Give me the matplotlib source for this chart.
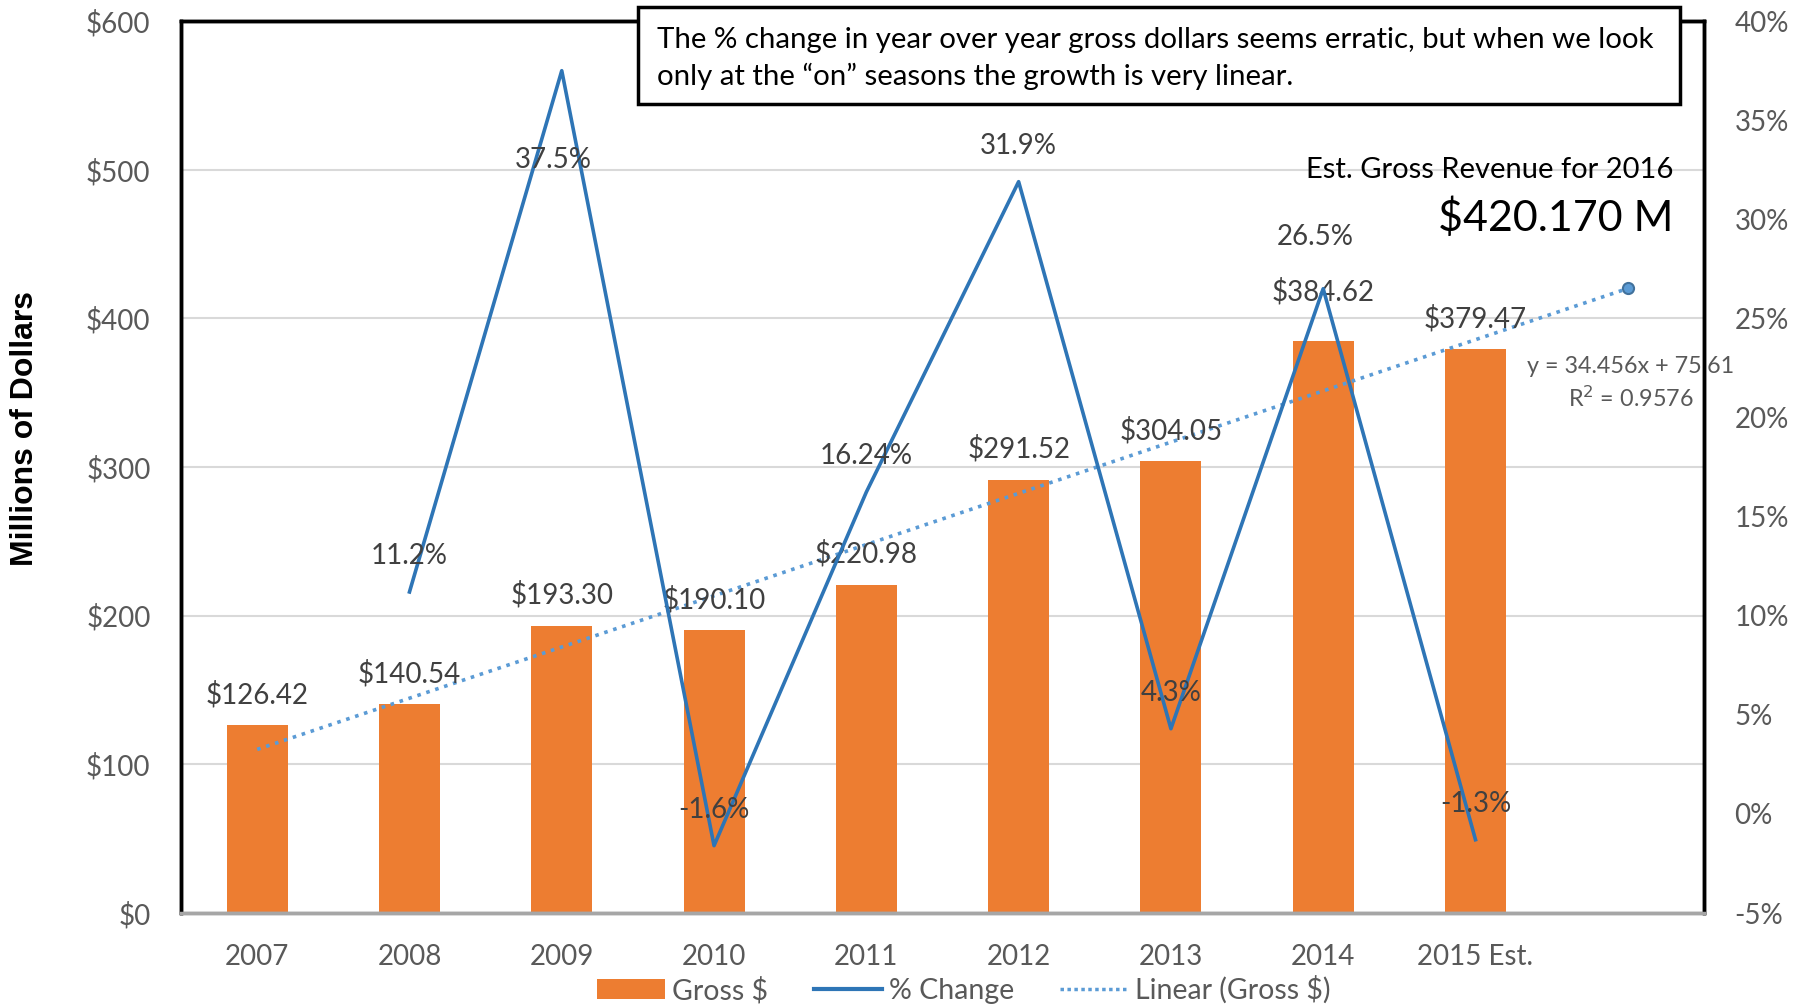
import numpy as np
import matplotlib
matplotlib.use("Agg")
from matplotlib import pyplot as plt
from matplotlib.patches import Rectangle
from matplotlib.lines import Line2D
from matplotlib.patches import Patch

plt.rcParams["font.family"] = ["Lato", "DejaVu Sans"]

# Data
years = ["2007", "2008", "2009", "2010", "2011", "2012", "2013", "2014", "2015 Est.", ""]
gross = [126.42, 140.54, 193.30, 190.10, 220.98, 291.52, 304.05, 384.62, 379.47]
pct_years = ["2008", "2009", "2010", "2011", "2012", "2013", "2014", "2015 Est."]
pct_change = [11.2, 37.5, -1.6, 16.24, 31.9, 4.3, 26.5, -1.3]
pct_labels = ["11.2%", "37.5%", "-1.6%", "16.24%", "31.9%", "4.3%", "26.5%", "-1.3%"]
trend_slope = 34.456
trend_intercept = 75.61
trend_r2 = 0.9576

ORANGE = "#ED7D31"
BLUE = "#2E75B6"
LIGHT_BLUE = "#5B9BD5"
GREY_TEXT = "#595959"

fig = plt.figure(figsize=(18.05, 10.07), dpi=100)
ax = fig.add_axes([0.1003, 0.0933, 0.8437, 0.8857])
ax2 = ax.twinx()

x = np.arange(len(years))
bar_x = x[:len(gross)]
pct_x = np.array([years.index(y) for y in pct_years])

# Bars
ax.bar(bar_x, gross, width=0.4, color=ORANGE, zorder=2)

# Linear trendline (Excel style, x = 1..10)
tx = np.arange(1, len(years) + 1)
ty = trend_slope * tx + trend_intercept
ax.plot(x, ty, linestyle=(0, (1, 1.6)), color=LIGHT_BLUE, lw=2.6, zorder=3)
ax.plot(x[-1], ty[-1], "o", color=LIGHT_BLUE, markeredgecolor="#41719C",
        markersize=8, markeredgewidth=1.5, zorder=4)

# Percent change line
ax2.plot(pct_x, pct_change, color=BLUE, lw=2.6, zorder=3)

# Axes ranges and ticks
ax.set_xlim(-0.5, len(years) - 0.5)
ax.set_ylim(0, 600)
ax.set_yticks(np.arange(0, 601, 100))
ax.set_yticklabels([f"${v}" for v in range(0, 601, 100)])
ax2.set_ylim(-5, 40)
ax2.set_yticks(np.arange(-5, 41, 5))
ax2.set_yticklabels([f"{v}%" for v in range(-5, 41, 5)])
ax.set_xticks(x)
ax.set_xticklabels(years)

ax.grid(axis="y", color="#D9D9D9", lw=1.5, zorder=0)
ax.set_axisbelow(True)

for a in (ax, ax2):
    a.tick_params(length=0, labelsize=20, colors=GREY_TEXT)
    for side in ("left", "right", "top"):
        a.spines[side].set_color("black")
        a.spines[side].set_linewidth(2.5)
    a.spines["bottom"].set_color("#A6A6A6")
    a.spines["bottom"].set_linewidth(2.5)
ax.tick_params(axis="y", pad=22)
ax2.tick_params(axis="y", pad=22)
ax.tick_params(axis="x", pad=22)

# Bar data labels
bar_offsets = [22, 22, 22, 22, 22, 22, 22, 36, 22]
for xi, v, off in zip(bar_x, gross, bar_offsets):
    ax.annotate(f"${v:.2f}", (xi, v), xytext=(0, off), textcoords="offset points",
                ha="center", va="center", fontsize=20, color="#404040", zorder=6)

# Percent data labels
pct_offsets = [(0, 26), (-6, -64), (0, 26), (0, 26), (0, 26), (0, 26), (-6, 37), (0, 26)]
for xi, v, lab, off in zip(pct_x, pct_change, pct_labels, pct_offsets):
    ax2.annotate(lab, (xi, v), xytext=off, textcoords="offset points",
                 ha="center", va="center", fontsize=20, color="#404040", zorder=6)

# Trendline equation
ax.text(9.02, 368, f"y = {trend_slope}x + {trend_intercept}", ha="center", va="center",
        fontsize=16.8, color=GREY_TEXT, zorder=6)
ax.text(9.02, 346, f"R$^2$ = {trend_r2}", ha="center", va="center",
        fontsize=16.8, color=GREY_TEXT, zorder=6)

# 2016 estimate callout
ax.text(9.30, 500, "Est. Gross Revenue for 2016", ha="right", va="center",
        fontsize=21, color="black", zorder=6)
ax.text(9.30, 468, f"${ty[-1]:.3f} M", ha="right", va="center",
        fontsize=31, color="black", zorder=6)

# Y axis title
fig.text(0.0139, 0.574, "Millions of Dollars", rotation=90, ha="center", va="center",
         fontsize=23, fontweight="bold", family="Liberation Sans", color="black")

# Comment box
fig.patches.append(Rectangle((0.3535, 0.897), 0.5775, 0.096, transform=fig.transFigure,
                             facecolor="white", edgecolor="black", lw=2.5, zorder=10))
fig.text(0.364, 0.942,
         "The % change in year over year gross dollars seems erratic, but when we look\n"
         "only at the \u201con\u201d seasons the growth is very linear.",
         ha="left", va="center", fontsize=21.2, linespacing=1.42, color="black", zorder=11)

# Legend
handles = [Patch(facecolor=ORANGE, edgecolor="none"),
           Line2D([], [], color=BLUE, lw=3),
           Line2D([], [], color=LIGHT_BLUE, lw=2.5, linestyle=(0, (1, 1)))]
fig.legend(handles, ["Gross $", "% Change", "Linear (Gross $)"], loc="center",
           bbox_to_anchor=(0.534, 0.017), ncol=3, frameon=False, fontsize=20.5,
           labelcolor=GREY_TEXT, handlelength=2.4, columnspacing=1.6, handletextpad=0.25)

plt.savefig("out.png", dpi=100)
